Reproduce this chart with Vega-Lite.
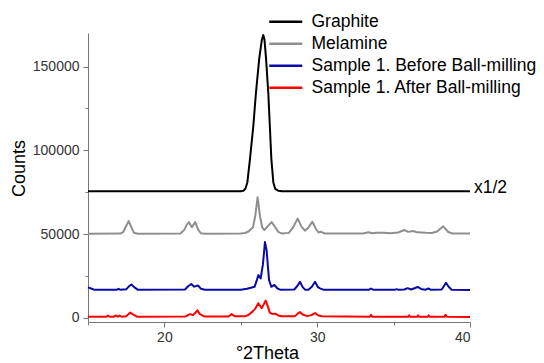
{
  "$schema": "https://vega.github.io/schema/vega-lite/v6.json",
  "width": 382,
  "height": 289,
  "autosize": "none",
  "padding": {"left": 88, "top": 33, "right": 74, "bottom": 41},
  "background": "white",
  "config": {"view": {"stroke": null}, "font": "Liberation Sans"},
  "datasets": {
    "xrd": [
      {"series":"Graphite","theta":15,"counts":75500},
      {"series":"Graphite","theta":25.0,"counts":75600},
      {"series":"Graphite","theta":25.17,"counts":75900},
      {"series":"Graphite","theta":25.3,"counts":77000},
      {"series":"Graphite","theta":25.43,"counts":80800},
      {"series":"Graphite","theta":25.6,"counts":94700},
      {"series":"Graphite","theta":25.82,"counts":114500},
      {"series":"Graphite","theta":25.99,"counts":134200},
      {"series":"Graphite","theta":26.21,"counts":155000},
      {"series":"Graphite","theta":26.38,"counts":166000},
      {"series":"Graphite","theta":26.47,"counts":168800},
      {"series":"Graphite","theta":26.55,"counts":166000},
      {"series":"Graphite","theta":26.65,"counts":155000},
      {"series":"Graphite","theta":26.8,"counts":134200},
      {"series":"Graphite","theta":26.9,"counts":114500},
      {"series":"Graphite","theta":27.0,"counts":94700},
      {"series":"Graphite","theta":27.13,"counts":80800},
      {"series":"Graphite","theta":27.25,"counts":77000},
      {"series":"Graphite","theta":27.45,"counts":75900},
      {"series":"Graphite","theta":27.7,"counts":75600},
      {"series":"Graphite","theta":40,"counts":75500},

      {"series":"Melamine","theta":15,"counts":50200},
      {"series":"Melamine","theta":17.1,"counts":50300},
      {"series":"Melamine","theta":17.3,"counts":51200},
      {"series":"Melamine","theta":17.48,"counts":54500},
      {"series":"Melamine","theta":17.66,"counts":57700},
      {"series":"Melamine","theta":17.82,"counts":54500},
      {"series":"Melamine","theta":18.0,"counts":50800},
      {"series":"Melamine","theta":18.25,"counts":50200},
      {"series":"Melamine","theta":21.05,"counts":50300},
      {"series":"Melamine","theta":21.3,"counts":52500},
      {"series":"Melamine","theta":21.46,"counts":55500},
      {"series":"Melamine","theta":21.61,"counts":57100},
      {"series":"Melamine","theta":21.8,"counts":54100},
      {"series":"Melamine","theta":22.02,"counts":57100},
      {"series":"Melamine","theta":22.2,"counts":52800},
      {"series":"Melamine","theta":22.38,"counts":50500},
      {"series":"Melamine","theta":22.7,"counts":50200},
      {"series":"Melamine","theta":25.0,"counts":50300},
      {"series":"Melamine","theta":25.27,"counts":50600},
      {"series":"Melamine","theta":25.5,"counts":51500},
      {"series":"Melamine","theta":25.8,"counts":54100},
      {"series":"Melamine","theta":25.95,"counts":61000},
      {"series":"Melamine","theta":26.1,"counts":72000},
      {"series":"Melamine","theta":26.25,"counts":61000},
      {"series":"Melamine","theta":26.4,"counts":54000},
      {"series":"Melamine","theta":26.54,"counts":52300},
      {"series":"Melamine","theta":26.8,"counts":55000},
      {"series":"Melamine","theta":27.02,"counts":57100},
      {"series":"Melamine","theta":27.22,"counts":54500},
      {"series":"Melamine","theta":27.45,"counts":51300},
      {"series":"Melamine","theta":27.7,"counts":50300},
      {"series":"Melamine","theta":28.15,"counts":50700},
      {"series":"Melamine","theta":28.42,"counts":54000},
      {"series":"Melamine","theta":28.72,"counts":59200},
      {"series":"Melamine","theta":28.98,"counts":54300},
      {"series":"Melamine","theta":29.2,"counts":52000},
      {"series":"Melamine","theta":29.42,"counts":53800},
      {"series":"Melamine","theta":29.68,"counts":57300},
      {"series":"Melamine","theta":29.92,"counts":53000},
      {"series":"Melamine","theta":30.08,"counts":51000},
      {"series":"Melamine","theta":30.23,"counts":51400},
      {"series":"Melamine","theta":30.5,"counts":50300},
      {"series":"Melamine","theta":33.0,"counts":50300},
      {"series":"Melamine","theta":33.35,"counts":51100},
      {"series":"Melamine","theta":33.6,"counts":50500},
      {"series":"Melamine","theta":33.9,"counts":50800},
      {"series":"Melamine","theta":34.33,"counts":50800},
      {"series":"Melamine","theta":34.8,"counts":50500},
      {"series":"Melamine","theta":35.3,"counts":50900},
      {"series":"Melamine","theta":35.7,"counts":52400},
      {"series":"Melamine","theta":35.95,"counts":51300},
      {"series":"Melamine","theta":36.29,"counts":51800},
      {"series":"Melamine","theta":36.55,"counts":51000},
      {"series":"Melamine","theta":36.84,"counts":50900},
      {"series":"Melamine","theta":37.1,"counts":50700},
      {"series":"Melamine","theta":37.5,"counts":50600},
      {"series":"Melamine","theta":37.85,"counts":51500},
      {"series":"Melamine","theta":38.25,"counts":54600},
      {"series":"Melamine","theta":38.58,"counts":51200},
      {"series":"Melamine","theta":38.85,"counts":50300},
      {"series":"Melamine","theta":40,"counts":50300},

      {"series":"Sample 1. Before Ball-milling","theta":15,"counts":18200},
      {"series":"Sample 1. Before Ball-milling","theta":15.2,"counts":17500},
      {"series":"Sample 1. Before Ball-milling","theta":15.44,"counts":16700},
      {"series":"Sample 1. Before Ball-milling","theta":16.9,"counts":16800},
      {"series":"Sample 1. Before Ball-milling","theta":17.0,"counts":17300},
      {"series":"Sample 1. Before Ball-milling","theta":17.1,"counts":16800},
      {"series":"Sample 1. Before Ball-milling","theta":17.5,"counts":17000},
      {"series":"Sample 1. Before Ball-milling","theta":17.68,"counts":18800},
      {"series":"Sample 1. Before Ball-milling","theta":17.84,"counts":19900},
      {"series":"Sample 1. Before Ball-milling","theta":18.02,"counts":18300},
      {"series":"Sample 1. Before Ball-milling","theta":18.25,"counts":16800},
      {"series":"Sample 1. Before Ball-milling","theta":21.35,"counts":16900},
      {"series":"Sample 1. Before Ball-milling","theta":21.55,"counts":18800},
      {"series":"Sample 1. Before Ball-milling","theta":21.76,"counts":20200},
      {"series":"Sample 1. Before Ball-milling","theta":21.95,"counts":18600},
      {"series":"Sample 1. Before Ball-milling","theta":22.2,"counts":19300},
      {"series":"Sample 1. Before Ball-milling","theta":22.4,"counts":17300},
      {"series":"Sample 1. Before Ball-milling","theta":22.65,"counts":16700},
      {"series":"Sample 1. Before Ball-milling","theta":25.0,"counts":16800},
      {"series":"Sample 1. Before Ball-milling","theta":25.4,"counts":17300},
      {"series":"Sample 1. Before Ball-milling","theta":25.6,"counts":17800},
      {"series":"Sample 1. Before Ball-milling","theta":25.9,"counts":18500},
      {"series":"Sample 1. Before Ball-milling","theta":26.05,"counts":22500},
      {"series":"Sample 1. Before Ball-milling","theta":26.15,"counts":25500},
      {"series":"Sample 1. Before Ball-milling","theta":26.3,"counts":23500},
      {"series":"Sample 1. Before Ball-milling","theta":26.45,"counts":32000},
      {"series":"Sample 1. Before Ball-milling","theta":26.58,"counts":45200},
      {"series":"Sample 1. Before Ball-milling","theta":26.69,"counts":40300},
      {"series":"Sample 1. Before Ball-milling","theta":26.78,"counts":30000},
      {"series":"Sample 1. Before Ball-milling","theta":26.85,"counts":22500},
      {"series":"Sample 1. Before Ball-milling","theta":27.0,"counts":18500},
      {"series":"Sample 1. Before Ball-milling","theta":27.2,"counts":19600},
      {"series":"Sample 1. Before Ball-milling","theta":27.4,"counts":17500},
      {"series":"Sample 1. Before Ball-milling","theta":27.57,"counts":16800},
      {"series":"Sample 1. Before Ball-milling","theta":28.5,"counts":16900},
      {"series":"Sample 1. Before Ball-milling","theta":28.7,"counts":19000},
      {"series":"Sample 1. Before Ball-milling","theta":28.87,"counts":21500},
      {"series":"Sample 1. Before Ball-milling","theta":29.05,"counts":18300},
      {"series":"Sample 1. Before Ball-milling","theta":29.2,"counts":16800},
      {"series":"Sample 1. Before Ball-milling","theta":29.42,"counts":16700},
      {"series":"Sample 1. Before Ball-milling","theta":29.65,"counts":18500},
      {"series":"Sample 1. Before Ball-milling","theta":29.86,"counts":21500},
      {"series":"Sample 1. Before Ball-milling","theta":30.03,"counts":18500},
      {"series":"Sample 1. Before Ball-milling","theta":30.18,"counts":17600},
      {"series":"Sample 1. Before Ball-milling","theta":30.4,"counts":16800},
      {"series":"Sample 1. Before Ball-milling","theta":33.4,"counts":16800},
      {"series":"Sample 1. Before Ball-milling","theta":33.52,"counts":17500},
      {"series":"Sample 1. Before Ball-milling","theta":33.65,"counts":16800},
      {"series":"Sample 1. Before Ball-milling","theta":35.1,"counts":16800},
      {"series":"Sample 1. Before Ball-milling","theta":35.2,"counts":17100},
      {"series":"Sample 1. Before Ball-milling","theta":35.3,"counts":16800},
      {"series":"Sample 1. Before Ball-milling","theta":35.7,"counts":16900},
      {"series":"Sample 1. Before Ball-milling","theta":35.92,"counts":17700},
      {"series":"Sample 1. Before Ball-milling","theta":36.15,"counts":16900},
      {"series":"Sample 1. Before Ball-milling","theta":36.58,"counts":18400},
      {"series":"Sample 1. Before Ball-milling","theta":36.85,"counts":17000},
      {"series":"Sample 1. Before Ball-milling","theta":37.1,"counts":16800},
      {"series":"Sample 1. Before Ball-milling","theta":37.27,"counts":17500},
      {"series":"Sample 1. Before Ball-milling","theta":37.45,"counts":16700},
      {"series":"Sample 1. Before Ball-milling","theta":38.15,"counts":16900},
      {"series":"Sample 1. Before Ball-milling","theta":38.3,"counts":19000},
      {"series":"Sample 1. Before Ball-milling","theta":38.43,"counts":20900},
      {"series":"Sample 1. Before Ball-milling","theta":38.6,"counts":18500},
      {"series":"Sample 1. Before Ball-milling","theta":38.8,"counts":16700},
      {"series":"Sample 1. Before Ball-milling","theta":40,"counts":16600},

      {"series":"Sample 1. After Ball-milling","theta":15,"counts":600},
      {"series":"Sample 1. After Ball-milling","theta":16.2,"counts":600},
      {"series":"Sample 1. After Ball-milling","theta":16.3,"counts":1300},
      {"series":"Sample 1. After Ball-milling","theta":16.45,"counts":600},
      {"series":"Sample 1. After Ball-milling","theta":16.7,"counts":700},
      {"series":"Sample 1. After Ball-milling","theta":16.8,"counts":1400},
      {"series":"Sample 1. After Ball-milling","theta":16.95,"counts":700},
      {"series":"Sample 1. After Ball-milling","theta":17.05,"counts":1300},
      {"series":"Sample 1. After Ball-milling","theta":17.2,"counts":700},
      {"series":"Sample 1. After Ball-milling","theta":17.5,"counts":900},
      {"series":"Sample 1. After Ball-milling","theta":17.65,"counts":2200},
      {"series":"Sample 1. After Ball-milling","theta":17.77,"counts":3100},
      {"series":"Sample 1. After Ball-milling","theta":17.95,"counts":2000},
      {"series":"Sample 1. After Ball-milling","theta":18.2,"counts":700},
      {"series":"Sample 1. After Ball-milling","theta":21.4,"counts":800},
      {"series":"Sample 1. After Ball-milling","theta":21.6,"counts":1900},
      {"series":"Sample 1. After Ball-milling","theta":21.7,"counts":2200},
      {"series":"Sample 1. After Ball-milling","theta":21.85,"counts":1600},
      {"series":"Sample 1. After Ball-milling","theta":22.05,"counts":3200},
      {"series":"Sample 1. After Ball-milling","theta":22.16,"counts":4500},
      {"series":"Sample 1. After Ball-milling","theta":22.3,"counts":2400},
      {"series":"Sample 1. After Ball-milling","theta":22.6,"counts":800},
      {"series":"Sample 1. After Ball-milling","theta":24.2,"counts":800},
      {"series":"Sample 1. After Ball-milling","theta":24.4,"counts":2200},
      {"series":"Sample 1. After Ball-milling","theta":24.6,"counts":900},
      {"series":"Sample 1. After Ball-milling","theta":25.3,"counts":1000},
      {"series":"Sample 1. After Ball-milling","theta":25.5,"counts":1700},
      {"series":"Sample 1. After Ball-milling","theta":25.76,"counts":3700},
      {"series":"Sample 1. After Ball-milling","theta":25.95,"counts":5500},
      {"series":"Sample 1. After Ball-milling","theta":26.15,"counts":8700},
      {"series":"Sample 1. After Ball-milling","theta":26.37,"counts":5700},
      {"series":"Sample 1. After Ball-milling","theta":26.5,"counts":8000},
      {"series":"Sample 1. After Ball-milling","theta":26.63,"counts":10300},
      {"series":"Sample 1. After Ball-milling","theta":26.78,"counts":6500},
      {"series":"Sample 1. After Ball-milling","theta":26.9,"counts":3100},
      {"series":"Sample 1. After Ball-milling","theta":27.05,"counts":2300},
      {"series":"Sample 1. After Ball-milling","theta":27.24,"counts":2500},
      {"series":"Sample 1. After Ball-milling","theta":27.45,"counts":1400},
      {"series":"Sample 1. After Ball-milling","theta":27.68,"counts":900},
      {"series":"Sample 1. After Ball-milling","theta":28.55,"counts":1000},
      {"series":"Sample 1. After Ball-milling","theta":28.72,"counts":2500},
      {"series":"Sample 1. After Ball-milling","theta":28.87,"counts":3400},
      {"series":"Sample 1. After Ball-milling","theta":29.05,"counts":2000},
      {"series":"Sample 1. After Ball-milling","theta":29.35,"counts":1000},
      {"series":"Sample 1. After Ball-milling","theta":29.6,"counts":1600},
      {"series":"Sample 1. After Ball-milling","theta":29.86,"counts":2800},
      {"series":"Sample 1. After Ball-milling","theta":30.05,"counts":1500},
      {"series":"Sample 1. After Ball-milling","theta":30.3,"counts":900},
      {"series":"Sample 1. After Ball-milling","theta":33.45,"counts":700},
      {"series":"Sample 1. After Ball-milling","theta":33.52,"counts":1800},
      {"series":"Sample 1. After Ball-milling","theta":33.6,"counts":700},
      {"series":"Sample 1. After Ball-milling","theta":35.95,"counts":600},
      {"series":"Sample 1. After Ball-milling","theta":36.02,"counts":1500},
      {"series":"Sample 1. After Ball-milling","theta":36.1,"counts":600},
      {"series":"Sample 1. After Ball-milling","theta":36.55,"counts":600},
      {"series":"Sample 1. After Ball-milling","theta":36.6,"counts":1500},
      {"series":"Sample 1. After Ball-milling","theta":36.66,"counts":600},
      {"series":"Sample 1. After Ball-milling","theta":37.24,"counts":600},
      {"series":"Sample 1. After Ball-milling","theta":37.3,"counts":1500},
      {"series":"Sample 1. After Ball-milling","theta":37.36,"counts":600},
      {"series":"Sample 1. After Ball-milling","theta":38.33,"counts":600},
      {"series":"Sample 1. After Ball-milling","theta":38.4,"counts":1800},
      {"series":"Sample 1. After Ball-milling","theta":38.48,"counts":600},
      {"series":"Sample 1. After Ball-milling","theta":40,"counts":500}
    ],
    "note": [{"theta": 40, "counts": 75500, "label": "x1/2"}]
  },
  "layer": [
    {
      "data": {"name": "xrd"},
      "mark": {"type": "line", "strokeWidth": 2, "strokeJoin": "round"},
      "encoding": {
        "x": {
          "field": "theta", "type": "quantitative",
          "scale": {"domain": [15, 40], "nice": false, "zero": false},
          "axis": {
            "title": "°2Theta",
            "values": [15, 20, 25, 30, 35, 40],
            "labelExpr": "datum.value % 10 === 0 ? datum.label : ''",
            "grid": false,
            "domainColor": "#777777",
            "tickColor": "#777777",
            "tickSize": {"condition": {"test": "datum.value % 10 !== 0", "value": 3}, "value": 5},
            "labelFontSize": 14,
            "labelColor": "#333333",
            "labelPadding": 3,
            "titleFontSize": 18,
            "titleFontWeight": "normal",
            "titleColor": "#000000",
            "titleX": 179,
            "titleY": 36,
            "titleBaseline": "alphabetic",
            "titleAlign": "center"
          }
        },
        "y": {
          "field": "counts", "type": "quantitative",
          "scale": {"domain": [-2500, 170000], "nice": false, "zero": false},
          "axis": {
            "title": "Counts",
            "values": [0, 25000, 50000, 75000, 100000, 125000, 150000],
            "format": "d",
            "labelExpr": "datum.value % 50000 === 0 ? datum.label : ''",
            "grid": false,
            "domainColor": "#777777",
            "tickColor": "#777777",
            "tickSize": {"condition": {"test": "datum.value % 50000 !== 0", "value": 3}, "value": 5},
            "labelFontSize": 14,
            "labelColor": "#333333",
            "labelPadding": 4,
            "titleFontSize": 18,
            "titleFontWeight": "normal",
            "titleColor": "#000000",
            "titleX": -69,
            "titleY": 135,
            "titleBaseline": "middle",
            "titleAlign": "center"
          }
        },
        "color": {
          "field": "series", "type": "nominal",
          "scale": {
            "domain": ["Graphite", "Melamine", "Sample 1. Before Ball-milling", "Sample 1. After Ball-milling"],
            "range": ["#000000", "#8f8f8f", "#0a0aa8", "#ff0000"]
          },
          "legend": {
            "orient": "none",
            "legendX": 189,
            "legendY": -20,
            "title": null,
            "padding": 0,
            "symbolType": "M-3,0H3",
            "symbolSize": 121,
            "symbolStrokeWidth": 2.5,
            "labelFontSize": 17.5,
            "labelColor": "#000000",
            "labelOffset": 17,
            "labelLimit": 400,
            "rowPadding": 3
          }
        },
        "order": {"field": "theta", "type": "quantitative"}
      }
    },
    {
      "data": {"name": "note"},
      "mark": {"type": "text", "align": "left", "baseline": "alphabetic", "dx": 4, "dy": 2, "fontSize": 17.5, "color": "#000000"},
      "encoding": {
        "x": {"field": "theta", "type": "quantitative"},
        "y": {"field": "counts", "type": "quantitative"},
        "text": {"field": "label"}
      }
    }
  ]
}
